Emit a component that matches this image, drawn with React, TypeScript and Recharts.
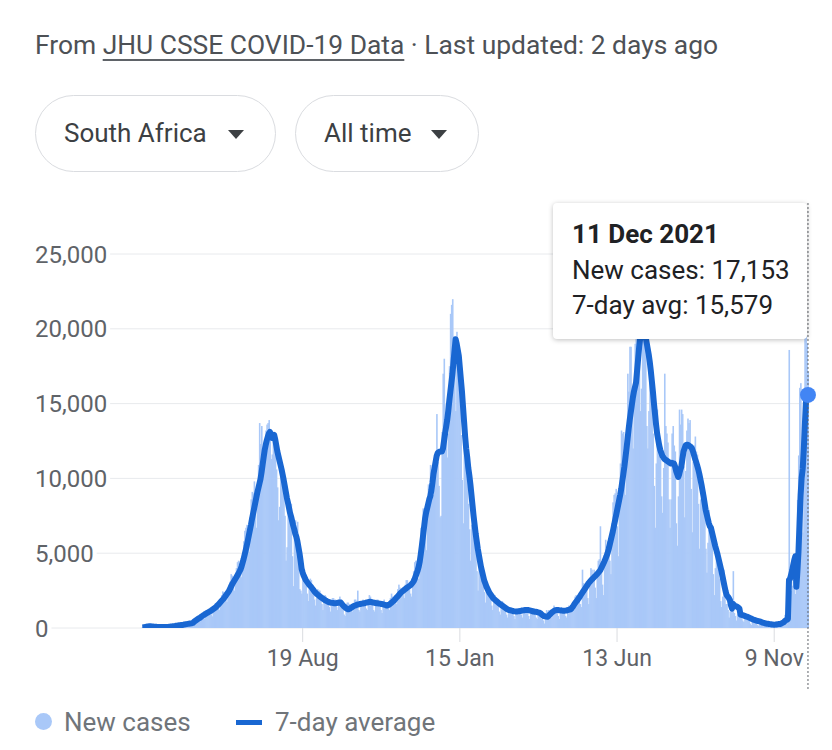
import React from "react";
import { Bar, CartesianGrid, ComposedChart, Line, Tooltip, XAxis, YAxis } from "recharts";

// daily series start here, one row per week (Fri .. Thu)
const startDate = "2020-03-20";
const tickDates = ["2020-08-19", "2021-01-15", "2021-06-13", "2021-11-09"];
const yTicks = [0, 5000, 10000, 15000, 20000, 25000];
const months = ["Jan", "Feb", "Mar", "Apr", "May", "Jun", "Jul", "Aug", "Sep", "Oct", "Nov", "Dec"];

const newCases = [
  50, 40, 35, 130, 150, 160, 220,
  150, 70, 90, 60, 50, 80, 90,
  70, 60, 50, 40, 80, 100, 60,
  70, 60, 80, 50, 90, 150, 130,
  180, 120, 100, 130, 160, 180, 320,
  250, 180, 140, 190, 230, 350, 350,
  300, 270, 220, 250, 300, 450, 420,
  620, 640, 600, 560, 700, 820, 900,
  900, 860, 720, 620, 960, 1200, 1250,
  1150, 1180, 920, 780, 1250, 1550, 1650,
  1600, 1550, 1400, 1200, 1750, 2200, 2450,
  2400, 2300, 1900, 1750, 2450, 2900, 3100,
  3600, 3500, 2900, 2500, 3400, 4000, 4400,
  4500, 4300, 3800, 3400, 4800, 5800, 6500,
  6700, 6900, 5600, 5100, 7400, 8600, 9100,
  9000, 9800, 8100, 6700, 9400, 10900, 13700,
  12300, 13500, 12000, 11200, 12000, 13200, 13600,
  13700, 13900, 13300, 11300, 11600, 12600, 12800,
  12400, 10600, 9400, 7200, 8100, 10400, 10000,
  9500, 9300, 7500, 4500, 5400, 8300, 8300,
  7300, 8300, 4800, 2800, 6200, 7200, 6300,
  7100, 4400, 2600, 2500, 2300, 3900, 3900,
  3200, 3300, 2300, 1800, 2600, 3300, 3200,
  2800, 2700, 1900, 1500, 2000, 2600, 2500,
  2500, 2300, 1600, 1200, 1900, 2200, 2100,
  2000, 1900, 1400, 1100, 1600, 2000, 2000,
  1900, 1900, 1400, 1200, 1700, 2100, 1900,
  1500, 1300, 900, 800, 1200, 1700, 1700,
  1600, 1500, 1200, 1100, 1500, 1900, 1900,
  1800, 2500, 1200, 1100, 1700, 1800, 1900,
  1800, 1700, 1300, 1200, 1900, 2200, 2100,
  1900, 1800, 1200, 1100, 1800, 1900, 1900,
  1800, 1700, 1200, 1000, 1700, 1900, 1700,
  1600, 1700, 1300, 1200, 2000, 2300, 2100,
  2000, 2200, 1800, 1600, 2600, 2900, 2700,
  2500, 2600, 2200, 2000, 2900, 3200, 3200,
  2900, 2900, 2300, 2100, 3300, 3800, 4400,
  4500, 4500, 3300, 3300, 5500, 6700, 6700,
  8000, 7900, 7400, 5200, 8200, 9600, 9300,
  10900, 10600, 8700, 8900, 9900, 11500, 14300,
  11100, 9500, 7400, 7500, 13100, 17000, 18000,
  14000, 15000, 11400, 13000, 17500, 21000, 21600,
  21980, 19500, 17500, 14500, 19800, 18700, 16000,
  16000, 12900, 9900, 7000, 12300, 12100, 11300,
  9900, 8300, 6600, 4500, 6900, 7700, 6200,
  5700, 5100, 3800, 2500, 4500, 4500, 3500,
  3200, 3000, 2400, 1700, 2600, 2900, 2500,
  2100, 2000, 1500, 1200, 1800, 2200, 2000,
  1900, 1800, 1100, 900, 1400, 1800, 1700,
  1500, 1400, 900, 700, 1200, 1400, 1400,
  1300, 1200, 800, 600, 1100, 1300, 1300,
  1300, 1300, 900, 700, 1200, 1400, 1400,
  1400, 1200, 800, 600, 1100, 1300, 1300,
  1300, 1100, 700, 600, 1000, 1200, 1200,
  600, 700, 500, 300, 900, 1200, 1100,
  1200, 1100, 800, 700, 1300, 1500, 1400,
  1300, 1200, 800, 600, 1200, 1400, 1300,
  1300, 1200, 800, 700, 1300, 1500, 1400,
  1400, 1600, 1400, 1200, 2100, 2200, 1900,
  2200, 2300, 1600, 1400, 3900, 3000, 2700,
  3000, 3100, 2000, 1600, 3000, 4000, 3900,
  3600, 3900, 2700, 2000, 3600, 4500, 4600,
  6800, 4400, 2900, 2200, 4600, 5900, 5500,
  5800, 6000, 4500, 3600, 7000, 8400, 8900,
  9000, 9300, 6800, 4800, 9300, 11000, 13200,
  13000, 13100, 10100, 8900, 13200, 17000, 15800,
  18800, 18800, 15000, 12000, 16100, 19000, 21000,
  22500, 24000, 21500, 14500, 16000, 20000, 20500,
  21000, 19500, 13500, 12000, 14500, 18000, 16500,
  16900, 13000, 9500, 6700, 11000, 14600, 12700,
  12600, 11300, 8800, 7700, 10700, 17000, 13500,
  13000, 12400, 8600, 6700, 8600, 13000, 13500,
  12200, 11800, 7000, 5500, 8800, 14600, 13600,
  14600, 14300, 10800, 7400, 10500, 13200, 14000,
  13700, 13900, 9300, 6400, 11100, 12200, 12800,
  11800, 11600, 8300, 5300, 8600, 10000, 9200,
  9000, 8300, 5300, 3700, 5700, 7900, 6200,
  7000, 5600, 3600, 2200, 4000, 5400, 4200,
  4400, 3300, 1800, 1400, 2100, 3900, 2900,
  1600, 1600, 1200, 700, 1100, 1500, 1400,
  3800, 1000, 800, 500, 900, 1100, 1000,
  1000, 900, 500, 400, 700, 900, 800,
  800, 700, 300, 200, 500, 600, 600,
  600, 500, 200, 150, 400, 500, 400,
  400, 300, 150, 100, 300, 400, 300,
  300, 250, 120, 100, 300, 300, 330,
  300, 310, 250, 220, 380, 590, 610,
  880, 720, 490, 530, 18586, 1275, 2465,
  2828, 3220, 2858, 2273, 4373, 8561, 11535,
  16055, 16366, 11125, 6381, 13147, 19842, 22391,
  19018, 17153,
];

const sevenDayAvg = [
  40, 45, 50, 65, 85, 100, 110,
  115, 110, 105, 100, 90, 85, 85,
  75, 70, 65, 65, 70, 70, 65,
  70, 70, 75, 75, 80, 90, 100,
  110, 120, 125, 135, 150, 155, 170,
  180, 190, 200, 205, 215, 240, 250,
  260, 275, 285, 295, 305, 320, 340,
  420, 470, 520, 570, 620, 660, 700,
  760, 810, 860, 900, 950, 990, 1030,
  1070, 1110, 1150, 1200, 1250, 1300, 1350,
  1420, 1490, 1560, 1640, 1720, 1800, 1880,
  1960, 2050, 2150, 2250, 2350, 2450, 2600,
  2750, 2900, 3020, 3140, 3260, 3380, 3500,
  3620, 3760, 3900, 4100, 4350, 4600, 4900,
  5200, 5500, 5850, 6200, 6550, 6900, 7300,
  7650, 8000, 8350, 8700, 9050, 9350, 9650,
  9950, 10400, 10900, 11400, 11900, 12250, 12550,
  12800, 13000, 13100, 12900, 12700, 12800, 12900,
  12600, 12200, 11800, 11500, 11200, 10900, 10600,
  10250, 9900, 9500, 9100, 8700, 8400, 8050,
  7700, 7450, 7150, 6850, 6600, 6300, 6100,
  5800, 5400, 5000, 4500, 3950, 3700, 3500,
  3350, 3200, 3100, 3000, 2900, 2820, 2750,
  2650, 2550, 2450, 2380, 2300, 2240, 2180,
  2120, 2070, 2020, 1970, 1920, 1870, 1830,
  1790, 1760, 1730, 1700, 1690, 1680, 1670,
  1660, 1650, 1660, 1680, 1700, 1710, 1700,
  1620, 1530, 1450, 1400, 1330, 1280, 1250,
  1270, 1300, 1350, 1400, 1450, 1480, 1510,
  1540, 1560, 1580, 1600, 1610, 1630, 1640,
  1650, 1670, 1690, 1710, 1720, 1740, 1750,
  1740, 1720, 1700, 1690, 1670, 1660, 1650,
  1640, 1630, 1620, 1600, 1590, 1570, 1550,
  1520, 1500, 1520, 1560, 1620, 1680, 1740,
  1800, 1870, 1950, 2030, 2110, 2190, 2270,
  2350, 2410, 2470, 2530, 2590, 2640, 2700,
  2750, 2800, 2850, 2920, 3000, 3100, 3250,
  3450, 3650, 3850, 4100, 4450, 4950, 5500,
  6100, 6700, 7300, 7700, 8000, 8300, 8600,
  8800, 9200, 9700, 10300, 10700, 11100, 11500,
  11700, 11750, 11800, 11800, 11800, 12000, 12500,
  13000, 13450, 13900, 14500, 15200, 15800, 16400,
  17000, 17800, 18600, 19300, 19000, 18600, 18200,
  17400, 16600, 15800, 14800, 13800, 12800, 12000,
  11400, 10700, 10200, 9600, 8900, 8200, 7500,
  6900, 6300, 5800, 5300, 4900, 4500, 4100,
  3800, 3500, 3200, 3000, 2800, 2650, 2500,
  2350, 2250, 2150, 2050, 1960, 1900, 1840,
  1780, 1720, 1660, 1600, 1550, 1500, 1450,
  1400, 1350, 1300, 1250, 1220, 1200, 1180,
  1160, 1140, 1120, 1110, 1100, 1100, 1110,
  1120, 1130, 1150, 1170, 1180, 1190, 1200,
  1200, 1210, 1200, 1180, 1160, 1140, 1120,
  1100, 1090, 1080, 1070, 1050, 1030, 1000,
  950, 880, 820, 790, 770, 760, 750,
  800, 880, 950, 1020, 1080, 1130, 1170,
  1190, 1200, 1200, 1190, 1180, 1170, 1160,
  1150, 1150, 1160, 1170, 1190, 1210, 1230,
  1250, 1320, 1420, 1530, 1640, 1740, 1820,
  1920, 2020, 2130, 2240, 2350, 2450, 2560,
  2670, 2780, 2890, 3000, 3080, 3160, 3240,
  3300, 3380, 3450, 3520, 3600, 3680, 3760,
  3850, 4000, 4150, 4300, 4450, 4620, 4800,
  5000, 5250, 5550, 5850, 6150, 6450, 6800,
  7150, 7500, 7850, 8200, 8550, 8900, 9300,
  9800, 10300, 10800, 11400, 12000, 12650, 13300,
  13900, 14400, 14900, 15400, 15800, 16100, 16400,
  17200, 18000, 18800, 19400, 19800, 19900, 19900,
  19700, 19500, 19100, 18700, 18300, 17800, 17200,
  16500, 15800, 15000, 14300, 13600, 13000, 12600,
  12200, 11900, 11700, 11500, 11400, 11300, 11250,
  11200, 11150, 11100, 11050, 11000, 11050, 11000,
  11000, 10800, 10500, 10300, 10100, 10300, 10600,
  10800, 11300, 11800, 12000, 12200, 12250, 12250,
  12200, 12150, 12100, 12000, 11800, 11550, 11300,
  11100, 10850, 10600, 10300, 9950, 9600, 9200,
  8800, 8350, 7900, 7600, 7300, 7000, 6800,
  6700, 6400, 6100, 5800, 5500, 5250, 5000,
  4700, 4400, 4100, 3800, 3450, 3100, 2750,
  2430, 2190, 2100, 2000, 1860, 1510, 1300,
  1614, 1529, 1471, 1443, 1414, 1357, 1300,
  900, 880, 860, 840, 810, 780, 760,
  730, 700, 670, 640, 600, 570, 540,
  520, 500, 480, 460, 440, 420, 400,
  360, 340, 320, 300, 290, 280, 270,
  260, 250, 240, 230, 225, 230, 240,
  250, 260, 265, 270, 310, 350, 380,
  460, 520, 550, 600, 3201, 3299, 3564,
  3842, 4199, 4537, 4786, 2756, 3797, 5093,
  6982, 8860, 10041, 10628, 11881, 13493, 15044,
  15467, 15579,
];

const barColour = "#a9c8f8";
const lineColour = "#1967d2";
const dotColour = "#4285f4";
const gridColour = "#e8eaed";
const axisText = "#5f6368";
const font = "Roboto, 'Noto Sans', Arial, sans-serif";

const dayMs = 24 * 60 * 60 * 1000;
const firstDay = Date.parse(startDate + "T00:00:00Z");

const data = newCases.map((cases, i) => ({
  date: new Date(firstDay + i * dayMs).toISOString().slice(0, 10),
  cases,
  avg: sevenDayAvg[i],
}));

const shortDate = (iso: string) => {
  const [, m, d] = iso.split("-");
  return `${Number(d)} ${months[Number(m) - 1]}`;
};
const longDate = (iso: string) => `${shortDate(iso)} ${iso.slice(0, 4)}`;
const fmt = (n: number) => n.toLocaleString("en-US");

// bars are ~1px wide, so widen each a touch to hide anti-aliasing seams
const DayBar = (props: any) => {
  const { x, y, width, height, fill } = props;
  if (!height || height <= 0) return null;
  return <rect x={x} y={y} width={width + 0.6} height={height} fill={fill} />;
};

// labels sit over the grid, on a white patch so the line stops just after the text
const YTick = ({ y, payload }: any) => {
  const label = fmt(payload.value);
  const digits = label.replace(/,/g, "").length;
  const commas = label.length - digits;
  const w = digits * 13.48 + commas * 4.73;
  return (
    <g>
      <rect x={30} y={y - 14} width={w + 8} height={28} fill="#fff" />
      <text x={35} y={y} dy="0.355em" fontSize={24} fontFamily={font} fill={axisText}>
        {label}
      </text>
    </g>
  );
};

const XTick = ({ x, y, payload }: any) => (
  <text x={x} y={y} dy={21.5} textAnchor="middle" fontSize={23} fontFamily={font} fill={axisText}>
    {shortDate(payload.value)}
  </text>
);

const TipCursor = (props: any) => {
  const x = props.points && props.points.length ? props.points[0].x : props.x + (props.width || 0) / 2;
  return <line x1={x} x2={x} y1={203} y2={690} stroke="#5f6368" strokeWidth={1} strokeDasharray="2 2" />;
};

const TipBox = ({ active, payload }: any) => {
  if (!active || !payload || !payload.length) return null;
  const row = payload[0].payload;
  return (
    <div
      style={{
        width: 254,
        height: 136,
        boxSizing: "border-box",
        padding: "14px 0 0 19px",
        background: "#fff",
        borderRadius: 4,
        boxShadow: "0 1px 5px rgba(0,0,0,0.25)",
        fontFamily: font,
        fontSize: 26,
        lineHeight: "35.5px",
        color: "#202124",
        whiteSpace: "nowrap",
      }}
    >
      <div style={{ fontWeight: 700 }}>{longDate(row.date)}</div>
      <div>New cases: {fmt(row.cases)}</div>
      <div>7-day avg: {fmt(row.avg)}</div>
    </div>
  );
};

const Pill = ({ left, width, label, caretLeft }: any) => (
  <div
    style={{
      position: "absolute",
      left,
      top: 95,
      width,
      height: 77,
      boxSizing: "border-box",
      border: "1px solid #dadce0",
      borderRadius: 39,
    }}
  >
    <span style={{ position: "absolute", left: 28, top: 20, fontSize: 26, lineHeight: "34px", color: "#3c4043" }}>
      {label}
    </span>
    <span
      style={{
        position: "absolute",
        left: caretLeft,
        top: 34,
        width: 0,
        height: 0,
        borderLeft: "8px solid transparent",
        borderRight: "8px solid transparent",
        borderTop: "9px solid #3c4043",
      }}
    />
  </div>
);

export default function App() {
  return (
    <div
      style={{
        position: "absolute",
        left: 0,
        top: 0,
        width: 832,
        height: 750,
        background: "#fff",
        overflow: "hidden",
        fontFamily: font,
      }}
    >
      <ComposedChart
        width={832}
        height={750}
        data={data}
        margin={{ top: 254, right: 23.5, bottom: 82, left: 0 }}
        barCategoryGap={0}
        barGap={0}
      >
        <CartesianGrid vertical={false} stroke={gridColour} />
        <XAxis
          dataKey="date"
          ticks={tickDates}
          interval={0}
          tick={<XTick />}
          tickLine={{ stroke: "#dadce0" }}
          tickSize={14}
          axisLine={false}
          height={40}
          padding={{ left: 106.8, right: 0 }}
        />
        <YAxis
          domain={[0, 25000]}
          ticks={yTicks}
          interval={0}
          allowDataOverflow
          width={35}
          tick={<YTick />}
          tickLine={false}
          axisLine={false}
        />
        <Tooltip
          defaultIndex={data.length - 1}
          active
          content={<TipBox />}
          cursor={<TipCursor />}
          position={{ x: 553, y: 203 }}
          isAnimationActive={false}
          wrapperStyle={{ outline: "none", zIndex: 5 }}
        />
        <Bar dataKey="cases" fill={barColour} shape={<DayBar />} activeBar={false} isAnimationActive={false} />
        <Line
          type="linear"
          dataKey="avg"
          stroke={lineColour}
          strokeWidth={6}
          strokeLinejoin="round"
          dot={false}
          activeDot={{ r: 8, fill: dotColour, stroke: "none" }}
          isAnimationActive={false}
        />
      </ComposedChart>

      <div style={{ position: "absolute", left: 35, top: 28, fontSize: 26.4, lineHeight: "34px", color: "#4d5156", whiteSpace: "nowrap" }}>
        From{" "}
        <span style={{ textDecoration: "underline", textDecorationColor: "#5f6368", textDecorationThickness: 2, textUnderlineOffset: 5 }}>
          JHU CSSE COVID-19 Data
        </span>{" "}
        · Last updated: 2 days ago
      </div>

      <Pill left={35} width={241} label="South Africa" caretLeft={192} />
      <Pill left={295} width={184} label="All time" caretLeft={135} />

      <div style={{ position: "absolute", left: 0, top: 705, height: 34, width: 832, fontSize: 26, lineHeight: "34px", color: "#70757a" }}>
        <span style={{ position: "absolute", left: 35, top: 8, width: 17, height: 17, borderRadius: "50%", background: barColour }} />
        <span style={{ position: "absolute", left: 64, top: 0 }}>New cases</span>
        <span style={{ position: "absolute", left: 236, top: 15, width: 26, height: 5, background: lineColour }} />
        <span style={{ position: "absolute", left: 275, top: 0 }}>7-day average</span>
      </div>
    </div>
  );
}
